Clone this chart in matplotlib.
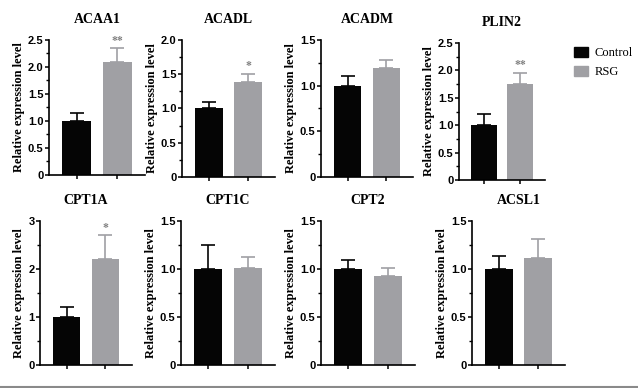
import matplotlib
matplotlib.use("Agg")
import matplotlib.pyplot as plt
from matplotlib.patches import Patch
from matplotlib.ticker import MultipleLocator

genes = ["ACAA1", "ACADL", "ACADM", "PLIN2", "CPT1A", "CPT1C", "CPT2", "ACSL1"]
control_mean = [1.0, 1.0, 1.0, 1.0, 1.0, 1.0, 1.0, 1.0]
control_err = [0.15, 0.10, 0.11, 0.20, 0.20, 0.25, 0.09, 0.14]
rsg_mean = [2.10, 1.39, 1.19, 1.75, 2.20, 1.01, 0.93, 1.11]
rsg_err = [0.25, 0.12, 0.09, 0.21, 0.50, 0.11, 0.08, 0.20]
signif = ["**", "*", "", "**", "*", "", "", ""]
y_max = [2.5, 2.0, 1.5, 2.5, 3.0, 1.5, 1.5, 1.5]
y_major = [0.5, 0.5, 0.5, 0.5, 1.0, 0.5, 0.5, 0.5]

# axes boxes in pixels: left x, right x, top y, zero y
boxes = [
    (49, 145, 40, 175),
    (182, 275, 40, 177),
    (321, 413, 40, 177),
    (459, 545, 43, 180),
    (40, 132, 221, 365),
    (181, 275, 221, 365),
    (321, 415, 221, 365),
    (472, 565, 221, 365),
]

W, H = 638, 388
BLACK = "#050505"
GRAY = "#a0a0a4"
serif = "Liberation Serif"
sans = "Liberation Sans"

fig = plt.figure(figsize=(W / 100, H / 100), dpi=100)

for i, gene in enumerate(genes):
    x0, x1, yt, yz = boxes[i]
    ax = fig.add_axes([x0 / W, 1 - yz / H, (x1 - x0) / W, (yz - yt) / H])
    vals = [control_mean[i], rsg_mean[i]]
    errs = [control_err[i], rsg_err[i]]
    colors = [BLACK, GRAY]
    for j in range(2):
        ax.bar(j, vals[j], width=0.7, color=colors[j], zorder=2)
        ax.errorbar(j, vals[j], yerr=[[0], [errs[j]]], color=colors[j],
                    capsize=5, elinewidth=1.2, capthick=1.2, zorder=1)
    if signif[i]:
        top = rsg_mean[i] + rsg_err[i]
        ax.text(1, top + y_max[i] * 0.01, signif[i], ha="center", va="bottom",
                color="#808080", fontsize=8.5, fontweight="bold", family=serif)

    ax.set_xlim(-0.68, 1.68)
    ax.set_ylim(0, y_max[i])
    ax.yaxis.set_major_locator(MultipleLocator(y_major[i]))
    ax.yaxis.set_minor_locator(MultipleLocator(y_major[i] / 2))
    ax.yaxis.set_major_formatter(
        plt.FuncFormatter(lambda v, p, m=y_major[i]: "0" if v == 0 else (f"{v:.0f}" if m >= 1 else f"{v:.1f}")))
    ax.set_xticks([0, 1])
    ax.set_xticklabels([])
    for s in ["top", "right"]:
        ax.spines[s].set_visible(False)
    for s in ["left", "bottom"]:
        ax.spines[s].set_linewidth(1.2)
    ax.tick_params(axis="both", which="major", length=3, width=1.1, labelsize=8, pad=1)
    ax.tick_params(axis="y", which="minor", length=2, width=1.0)
    for lab in ax.get_yticklabels():
        lab.set_fontweight("bold")
        lab.set_family(sans)
    ax.set_ylabel("Relative expression level", fontsize=9, fontweight="bold",
                  family=serif, labelpad=2)
    ax.set_title(gene, fontsize=10, fontweight="bold", family=serif, pad=12)

handles = [Patch(color=BLACK, label="Control"), Patch(color=GRAY, label="RSG")]
fig.legend(handles=handles, loc="upper left", bbox_to_anchor=(574 / W, 1 - 47 / H),
           frameon=False, prop={"family": serif, "size": 9}, borderpad=0,
           borderaxespad=0, handlelength=1.1, handleheight=0.8,
           handletextpad=0.55, labelspacing=0.55)

fig.add_artist(plt.Line2D([0, 1], [1.5 / H, 1.5 / H], transform=fig.transFigure,
                          color="#8a8a8a", lw=1.5))

fig.savefig("out.png", dpi=100)
